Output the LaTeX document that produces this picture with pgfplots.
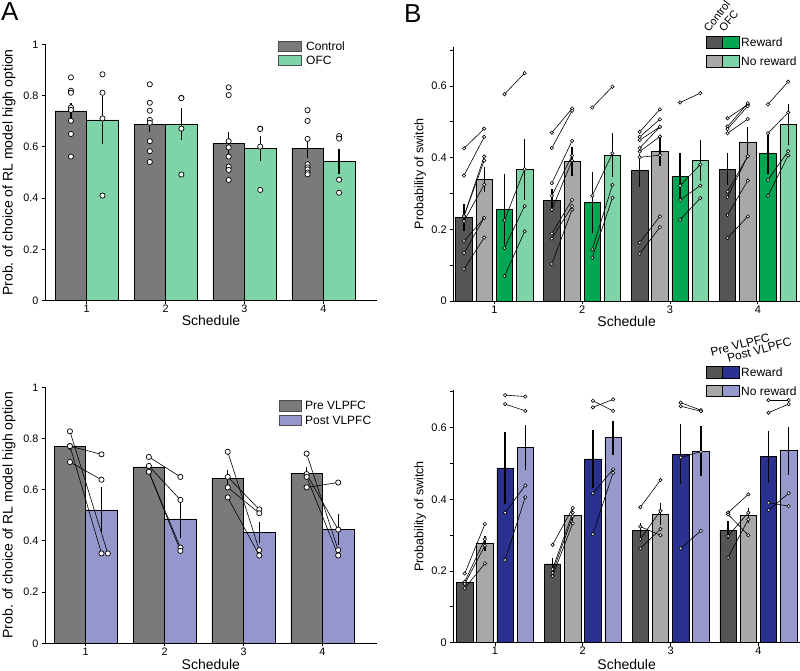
\documentclass[border=0pt]{standalone}
\usepackage{pgfplots}
\pgfplotsset{compat=1.18}
\usepackage{pgfplotstable}
\usepackage{fontspec}
\setmainfont{Liberation Sans}

\definecolor{ctrlA}{RGB}{122,122,122}
\definecolor{ofcA}{RGB}{127,212,167}
\definecolor{postA}{RGB}{149,151,204}
\definecolor{cR}{RGB}{85,85,85}
\definecolor{cNR}{RGB}{168,168,168}
\definecolor{oR}{RGB}{0,166,81}
\definecolor{oNR}{RGB}{127,212,167}
\definecolor{pR}{RGB}{43,49,145}
\definecolor{pNR}{RGB}{151,153,205}

\pgfplotsset{
  panel/.style={scale only axis, anchor=south west, clip=false,
    axis x line*=bottom, axis y line*=left,
    axis line style={line width=0.8pt,-},
    tick align=outside, major tick length=3pt, minor tick length=3pt,
    tick style={black, line width=0.8pt},
    xtick={1,2,3,4}, ymin=0,
    /pgf/number format/assume math mode=true,
    xlabel={Schedule},
    every x tick label/.append style={yshift=2pt},
  },
  bars/.style={ybar, bar shift=0pt, draw=black, line width=0.6pt,
    error bars/y dir=both, error bars/y explicit, error bars/error mark=none,
    error bars/error bar style={line width=1.3pt, black}},
  pairline/.style={black, line width=0.6pt, no markers,
    quiver={u=\thisrow{x2}-\thisrow{x1}, v=\thisrow{y2}-\thisrow{y1}}},
  dotA/.style={only marks, mark=*, mark size=2.6pt, mark options={fill=white, draw=black, line width=0.7pt}},
  dotB/.style={only marks, mark=*, mark size=1.7pt, mark options={fill=white, draw=black, line width=0.6pt}},
}

% ---------- Panel A top ----------
\pgfplotstableread{
g c ec o eo
1 0.740 0.030 0.705 0.095
2 0.688 0.030 0.688 0.062
3 0.612 0.045 0.594 0.050
4 0.595 0.040 0.543 0.050
}\tAtopbars
\pgfplotstableread{
x y
0.8 0.871
0.8 0.819
0.8 0.811
0.8 0.754
0.8 0.744
0.8 0.702
0.8 0.650
0.8 0.562
1.8 0.844
1.8 0.772
1.8 0.741
1.8 0.705
1.8 0.694
1.8 0.622
1.8 0.583
1.8 0.541
2.8 0.832
2.8 0.802
2.8 0.622
2.8 0.598
2.8 0.562
2.8 0.523
2.8 0.510
2.8 0.471
3.8 0.743
3.8 0.701
3.8 0.631
3.8 0.532
3.8 0.520
3.8 0.512
3.8 0.500
3.8 0.493
}\tAtopctrl
\pgfplotstableread{
x y
1.2 0.883
1.2 0.811
1.2 0.711
1.2 0.410
2.2 0.791
2.2 0.790
2.2 0.671
2.2 0.492
3.2 0.671
3.2 0.670
3.2 0.601
3.2 0.432
4.2 0.642
4.2 0.632
4.2 0.472
4.2 0.421
}\tAtopofc

% ---------- Panel A bottom ----------
\pgfplotstableread{
g p ep q eq
1 0.769 0.012 0.521 0.088
2 0.689 0.010 0.486 0.075
3 0.645 0.032 0.433 0.042
4 0.665 0.025 0.444 0.060
}\tAbotbars
\pgfplotstableread{
x1 y1 x2 y2
0.8 0.828 1.28 0.351
0.8 0.770 1.20 0.738
0.8 0.770 1.20 0.351
0.8 0.708 1.20 0.639
1.8 0.728 2.2 0.650
1.8 0.693 2.2 0.560
1.8 0.670 2.2 0.374
1.8 0.670 2.2 0.361
2.8 0.748 3.2 0.364
2.8 0.650 3.2 0.523
2.8 0.609 3.2 0.508
2.8 0.570 3.2 0.343
3.8 0.741 4.2 0.364
3.8 0.661 4.2 0.444
3.8 0.650 4.2 0.343
3.8 0.609 4.2 0.628
}\tAbotpairs

% ---------- Panel B top ----------
\pgfplotstableread{
g cR ecR cNR ecNR oR eoR oNR eoNR
1 0.233 0.037 0.339 0.035 0.255 0.100 0.367 0.085
2 0.281 0.032 0.389 0.040 0.276 0.085 0.407 0.062
3 0.364 0.047 0.418 0.040 0.347 0.065 0.393 0.057
4 0.368 0.044 0.442 0.044 0.411 0.057 0.492 0.058
}\tBtopbars
\pgfplotstableread{
x1 y1 x2 y2
0.655 0.426 0.885 0.481
0.655 0.350 0.885 0.458
0.655 0.237 0.885 0.403
0.655 0.237 0.885 0.392
0.655 0.223 0.885 0.325
0.655 0.167 0.885 0.232
0.655 0.134 0.885 0.232
0.655 0.089 0.885 0.177
1.115 0.577 1.345 0.636
1.115 0.225 1.345 0.368
1.115 0.148 1.345 0.265
1.115 0.069 1.345 0.194
1.655 0.470 1.885 0.537
1.655 0.427 1.885 0.531
1.655 0.329 1.885 0.447
1.655 0.294 1.885 0.406
1.655 0.255 1.885 0.392
1.655 0.188 1.885 0.282
1.655 0.174 1.885 0.265
1.655 0.103 1.885 0.255
2.115 0.540 2.345 0.598
2.115 0.294 2.345 0.412
2.115 0.144 2.345 0.324
2.115 0.121 2.345 0.288
2.655 0.472 2.885 0.535
2.655 0.458 2.885 0.507
2.655 0.449 2.885 0.486
2.655 0.427 2.885 0.486
2.655 0.417 2.885 0.459
2.655 0.401 2.885 0.407
2.655 0.163 2.885 0.236
2.655 0.132 2.885 0.206
3.115 0.554 3.345 0.580
3.115 0.322 3.345 0.381
3.115 0.282 3.345 0.322
3.115 0.227 3.345 0.287
3.655 0.510 3.885 0.548
3.655 0.487 3.885 0.552
3.655 0.480 3.885 0.544
3.655 0.468 3.885 0.508
3.655 0.305 3.885 0.404
3.655 0.290 3.885 0.404
3.655 0.240 3.885 0.336
3.655 0.176 3.885 0.236
4.115 0.549 4.345 0.612
4.115 0.468 4.345 0.526
4.115 0.338 4.345 0.418
4.115 0.294 4.345 0.406
}\tBtoppairs

% ---------- Panel B bottom ----------
\pgfplotstableread{
g cR ecR cNR ecNR oR eoR oNR eoNR
1 0.168 0.008 0.277 0.020 0.488 0.100 0.544 0.063
2 0.220 0.015 0.355 0.015 0.513 0.080 0.572 0.048
3 0.314 0.020 0.359 0.030 0.526 0.083 0.535 0.070
4 0.314 0.025 0.355 0.020 0.519 0.072 0.536 0.067
}\tBbotbars
\pgfplotstableread{
x1 y1 x2 y2
0.655 0.193 0.885 0.331
0.655 0.170 0.885 0.289
0.655 0.164 0.885 0.271
0.655 0.152 0.885 0.221
1.115 0.691 1.345 0.687
1.115 0.666 1.345 0.647
1.115 0.363 1.345 0.439
1.115 0.231 1.345 0.406
1.655 0.273 1.885 0.376
1.655 0.205 1.885 0.363
1.655 0.195 1.885 0.353
1.655 0.186 1.885 0.333
2.115 0.675 2.345 0.647
2.115 0.657 2.345 0.679
2.115 0.417 2.345 0.484
2.115 0.303 2.345 0.474
2.655 0.378 2.885 0.454
2.655 0.324 2.885 0.300
2.655 0.289 2.885 0.368
2.655 0.263 2.885 0.317
3.115 0.670 3.345 0.649
3.115 0.660 3.345 0.646
3.115 0.517 3.345 0.533
3.115 0.263 3.345 0.312
3.655 0.363 3.885 0.414
3.655 0.358 3.885 0.300
3.655 0.298 3.885 0.363
3.655 0.238 3.885 0.344
4.115 0.677 4.345 0.677
4.115 0.642 4.345 0.666
4.115 0.391 4.345 0.381
4.115 0.370 4.345 0.417
}\tBbotpairs

\begin{document}
\begin{tikzpicture}[x=1pt,y=1pt]
\useasboundingbox (0,0) rectangle (800,671);

% ===== A top =====
\begin{axis}[panel, at={(45pt,370.3pt)}, width=332pt, height=256.4pt,
  xmin=0.4715, xmax=4.68, ymax=1, ytick={0,0.2,0.4,0.6,0.8,1},
  tick label style={font=\fontsize{10.8}{12}\selectfont},
  xlabel style={at={(axis description cs:0.5,-0.078)}, anchor=center, font=\fontsize{14}{16}\selectfont},
  ylabel={Prob. of choice of RL model high option},
  ylabel style={at={(axis description cs:-0.1084,0.5)}, anchor=center, font=\fontsize{14}{16}\selectfont}]
\addplot[bars, bar width=0.4, fill=ctrlA] table[x expr=\thisrow{g}-0.2, y=c, y error=ec] {\tAtopbars};
\addplot[bars, bar width=0.4, fill=ofcA] table[x expr=\thisrow{g}+0.2, y=o, y error=eo] {\tAtopbars};
\addplot[dotA] table[x=x,y=y] {\tAtopctrl};
\addplot[dotA] table[x=x,y=y] {\tAtopofc};
\end{axis}

% ===== A bottom =====
\begin{axis}[panel, at={(45pt,27.7pt)}, width=331.7pt, height=256pt,
  xmin=0.484, xmax=4.688, ymax=1, ytick={0,0.2,0.4,0.6,0.8,1},
  tick label style={font=\fontsize{10.8}{12}\selectfont},
  xlabel style={at={(axis description cs:0.5,-0.082)}, anchor=center, font=\fontsize{14}{16}\selectfont},
  ylabel={Prob. of choice of RL model high option},
  ylabel style={at={(axis description cs:-0.1085,0.5)}, anchor=center, font=\fontsize{14}{16}\selectfont}]
\addplot[bars, bar width=0.4, fill=ctrlA] table[x expr=\thisrow{g}-0.2, y=p, y error=ep] {\tAbotbars};
\addplot[bars, bar width=0.4, fill=postA] table[x expr=\thisrow{g}+0.2, y=q, y error=eq] {\tAbotbars};
\addplot[pairline] table[x=x1,y=y1] {\tAbotpairs};
\addplot[dotA] table[x=x1,y=y1] {\tAbotpairs};
\addplot[dotA] table[x=x2,y=y2] {\tAbotpairs};
\end{axis}

% ===== B top =====
\begin{axis}[panel, at={(453.3pt,370pt)}, width=346.7pt, height=254.4pt,
  xmin=0.533, xmax=4.48, ymax=0.71, ytick={0,0.2,0.4,0.6}, minor ytick={0.1,0.3,0.5,0.7},
  tick label style={font=\fontsize{11}{12}\selectfont},
  xlabel style={at={(axis description cs:0.5,-0.081)}, anchor=center, font=\fontsize{14}{16}\selectfont},
  ylabel={Probability of switch},
  ylabel style={at={(axis description cs:-0.096,0.5)}, anchor=center, font=\fontsize{12.5}{14}\selectfont}]
\addplot[bars, bar width=0.188, fill=cR] table[x expr=\thisrow{g}-0.345, y=cR, y error=ecR] {\tBtopbars};
\addplot[bars, bar width=0.188, fill=cNR] table[x expr=\thisrow{g}-0.115, y=cNR, y error=ecNR] {\tBtopbars};
\addplot[bars, bar width=0.188, fill=oR] table[x expr=\thisrow{g}+0.115, y=oR, y error=eoR] {\tBtopbars};
\addplot[bars, bar width=0.188, fill=oNR] table[x expr=\thisrow{g}+0.345, y=oNR, y error=eoNR] {\tBtopbars};
\addplot[pairline] table[x=x1,y=y1] {\tBtoppairs};
\addplot[dotB] table[x=x1,y=y1] {\tBtoppairs};
\addplot[dotB] table[x=x2,y=y2] {\tBtoppairs};
\end{axis}

% ===== B bottom =====
\begin{axis}[panel, at={(453.3pt,28.3pt)}, width=346.7pt, height=252.6pt,
  xmin=0.525, xmax=4.474, ymax=0.705, ytick={0,0.2,0.4,0.6}, minor ytick={0.1,0.3,0.5,0.7},
  tick label style={font=\fontsize{11}{12}\selectfont},
  xlabel style={at={(axis description cs:0.5,-0.0855)}, anchor=center, font=\fontsize{14}{16}\selectfont},
  ylabel={Probability of switch},
  ylabel style={at={(axis description cs:-0.096,0.5)}, anchor=center, font=\fontsize{12.5}{14}\selectfont}]
\addplot[bars, bar width=0.188, fill=cR] table[x expr=\thisrow{g}-0.345, y=cR, y error=ecR] {\tBbotbars};
\addplot[bars, bar width=0.188, fill=cNR] table[x expr=\thisrow{g}-0.115, y=cNR, y error=ecNR] {\tBbotbars};
\addplot[bars, bar width=0.188, fill=pR] table[x expr=\thisrow{g}+0.115, y=oR, y error=eoR] {\tBbotbars};
\addplot[bars, bar width=0.188, fill=pNR] table[x expr=\thisrow{g}+0.345, y=oNR, y error=eoNR] {\tBbotbars};
\addplot[pairline] table[x=x1,y=y1] {\tBbotpairs};
\addplot[dotB] table[x=x1,y=y1] {\tBbotpairs};
\addplot[dotB] table[x=x2,y=y2] {\tBbotpairs};
\end{axis}

% ===== panel letters =====
\node[anchor=north west, inner sep=0pt, font=\fontsize{26}{28}\selectfont] at (1,669) {A};
\node[anchor=north west, inner sep=0pt, font=\fontsize{26}{28}\selectfont] at (404,667) {B};

% ===== legends =====
\begin{scope}[font=\fontsize{12}{14}\selectfont]
% A top
\filldraw[fill=ctrlA, draw=black!70, line width=0.5pt] (278.3,620) rectangle (301.7,630);
\filldraw[fill=ofcA, draw=black!70, line width=0.5pt] (278.3,606) rectangle (301.7,615.3);
\node[anchor=west, inner sep=0pt] at (306,625) {Control};
\node[anchor=west, inner sep=0pt] at (306,610.7) {OFC};
% A bottom
\filldraw[fill=ctrlA, draw=black!70, line width=0.5pt] (279.3,260) rectangle (301.7,271);
\filldraw[fill=postA, draw=black!70, line width=0.5pt] (279.3,245.3) rectangle (301.7,256);
\node[anchor=west, inner sep=0pt] at (305,265.5) {Pre VLPFC};
\node[anchor=west, inner sep=0pt] at (305,250.7) {Post VLPFC};
% B top
\filldraw[fill=cR, draw=black, line width=0.6pt] (706.7,622.7) rectangle (722.7,634.3);
\filldraw[fill=oR, draw=black, line width=0.6pt] (722.7,622.7) rectangle (739.3,634.3);
\filldraw[fill=cNR, draw=black, line width=0.6pt] (706.7,603.7) rectangle (722.7,615.3);
\filldraw[fill=oNR, draw=black, line width=0.6pt] (722.7,603.7) rectangle (739.3,615.3);
\node[anchor=west, inner sep=0pt] at (741,628.5) {Reward};
\node[anchor=west, inner sep=0pt] at (741,609.5) {No reward};
\node[anchor=base west, inner sep=0pt, rotate=52, font=\fontsize{11}{13}\selectfont] at (709,638.5) {Control};
\node[anchor=base west, inner sep=0pt, rotate=50, font=\fontsize{11}{13}\selectfont] at (724,638.5) {OFC};
% B bottom
\filldraw[fill=cR, draw=black, line width=0.6pt] (706.7,292.7) rectangle (722.7,304.3);
\filldraw[fill=pR, draw=black, line width=0.6pt] (722.7,292.7) rectangle (739.3,304.3);
\filldraw[fill=cNR, draw=black, line width=0.6pt] (706.7,274.3) rectangle (722.7,286);
\filldraw[fill=pNR, draw=black, line width=0.6pt] (722.7,274.3) rectangle (739.3,286);
\node[anchor=west, inner sep=0pt] at (741,298.5) {Reward};
\node[anchor=west, inner sep=0pt] at (741,280) {No reward};
\node[anchor=base west, inner sep=0pt, rotate=15] at (711.7,314.3) {Pre VLPFC};
\node[anchor=base west, inner sep=0pt, rotate=15] at (728.3,308.3) {Post VLPFC};
\end{scope}
\end{tikzpicture}
\end{document}
